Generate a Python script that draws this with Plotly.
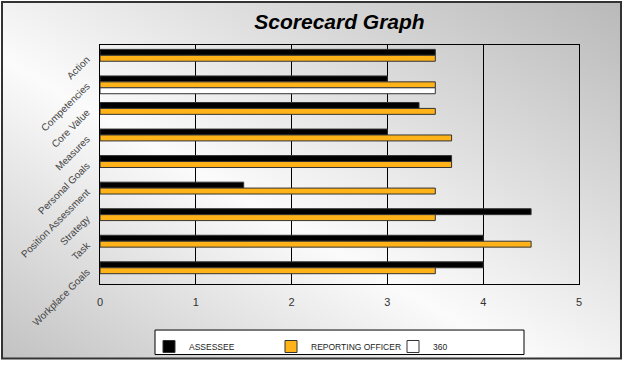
import base64
import plotly.graph_objects as go

categories = ["Action", "Competencies", "Core Value", "Measures", "Personal Goals",
              "Position Assessment", "Strategy", "Task", "Workplace Goals"]
assessee = [3.5, 3.0, 3.33, 3.0, 3.67, 1.5, 4.5, 4.0, 4.0]
reporting_officer = [3.5, 3.5, 3.5, 3.67, 3.67, 3.5, 3.5, 4.5, 3.5]
three_sixty = [None, 3.5, None, None, None, None, None, None, None]
x_ticks = [0, 1, 2, 3, 4, 5]

W, H = 623, 373
L, R, T, B = 100, 44, 45, 84
pw, ph = W - L - R, H - T - B


def px_x(x):
    return (x - L) / pw


def px_y(y):
    return (H - B - y) / ph


svg = (
    '<svg xmlns="http://www.w3.org/2000/svg" width="620" height="364" preserveAspectRatio="none">'
    '<defs><linearGradient id="g" x1="0" y1="1" x2="1" y2="0">'
    '<stop offset="0" stop-color="#c2c2c2"/>'
    '<stop offset="0.42" stop-color="#fbfbfb"/>'
    '<stop offset="1" stop-color="#b9b9b9"/>'
    '</linearGradient></defs>'
    '<rect width="620" height="364" fill="url(#g)"/></svg>'
)
bg_src = "data:image/svg+xml;base64," + base64.b64encode(svg.encode()).decode()

fig = go.Figure()
fig.add_trace(go.Bar(name="ASSESSEE", y=categories, x=assessee, orientation="h",
                     marker=dict(color="#000000", line=dict(color="#333333", width=1))))
fig.add_trace(go.Bar(name="REPORTING OFFICER", y=categories, x=reporting_officer, orientation="h",
                     marker=dict(color="#FFB319", line=dict(color="#333333", width=1))))
fig.add_trace(go.Bar(name="360", y=categories, x=three_sixty, orientation="h",
                     marker=dict(color="#FFFFFF", line=dict(color="#333333", width=1))))

fig.update_layout(
    width=W, height=H,
    margin=dict(l=L, r=R, t=T, b=B, pad=0),
    paper_bgcolor="rgba(0,0,0,0)",
    plot_bgcolor="rgba(0,0,0,0)",
    barmode="group", bargap=0.33, bargroupgap=0,
    font=dict(family="Arial, Liberation Sans, sans-serif", color="#333333"),
    title=dict(text="Scorecard Graph", x=0.5, xref="paper", xanchor="center",
               y=1 - 22 / H, yanchor="middle",
               font=dict(size=21, weight="bold", style="italic", color="#000000")),
    xaxis=dict(range=[0, 5], tickvals=x_ticks, showgrid=True, gridcolor="#000000", gridwidth=1,
               zeroline=False, showline=True, linecolor="#000000", linewidth=1, mirror=True,
               ticks="", tickfont=dict(size=11, color="#333333"), ticklabelstandoff=8),
    yaxis=dict(autorange="reversed", showgrid=False, showline=True, linecolor="#000000",
               linewidth=1, mirror=True, ticks="", tickangle=-45,
               tickfont=dict(size=10, color="#444444"), ticklabelstandoff=10),
    showlegend=True,
    legend=dict(orientation="h", x=px_x(149), xanchor="left", y=px_y(338), yanchor="top",
                bgcolor="rgba(0,0,0,0)", borderwidth=0, font=dict(size=8.5, color="#222222"),
                entrywidth=77, traceorder="normal"),
    images=[dict(source=bg_src, xref="paper", yref="paper", x=px_x(2), y=px_y(1),
                 sizex=619 / pw, sizey=364 / ph, sizing="stretch", xanchor="left",
                 yanchor="top", layer="below")],
    shapes=[
        dict(type="rect", xref="paper", yref="paper", x0=px_x(2), x1=px_x(621),
             y0=px_y(365), y1=px_y(1), line=dict(color="#333333", width=2), layer="below"),
        dict(type="rect", xref="paper", yref="paper", x0=px_x(155), x1=px_x(524),
             y0=px_y(361), y1=px_y(336), line=dict(color="#000000", width=1),
             fillcolor="#FFFFFF", layer="below"),
    ],
)

fig.write_html("out.html", config={"displayModeBar": False},
               post_script="document.body.style.margin='0px';")
